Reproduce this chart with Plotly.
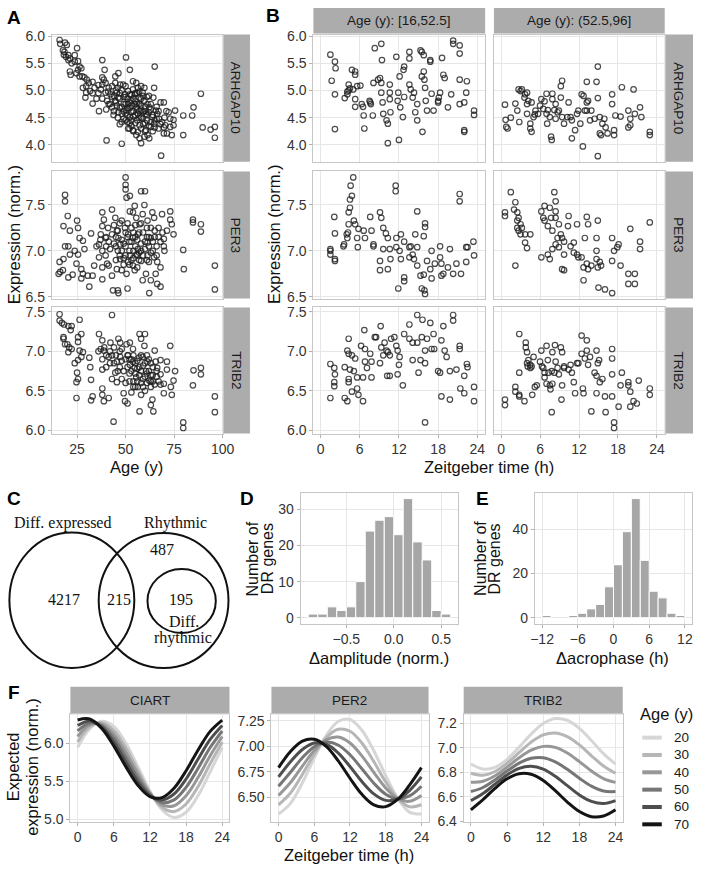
import plotly.graph_objects as go

W, H = 706, 872

# ---------------- DATA ----------------
# Panel A: expression vs age (age, expression)
a_arhgap10 = [(16.0,5.93),(16.3,5.86),(18.8,5.88),(19.7,5.84),(17.7,5.74),(18.5,5.71),(18.2,5.66),(19.3,5.62),(20.5,5.65),(21.3,5.59),(20.5,5.56),(23.8,5.65),(25.0,5.78),(22.2,5.50),(23.8,5.53),(25.5,5.54),(26.3,5.44),(25.5,5.38),(27.2,5.41),(27.7,5.26),(26.3,5.26),(24.7,5.32),(21.3,5.35),(21.7,5.29),(28.8,5.24),(29.7,5.08),(31.0,5.14),(31.7,4.99),(33.0,5.16),(29.7,4.96),(29.3,4.87),(33.0,4.76),(36.3,4.62),(38.0,5.56),(39.2,5.38),(38.0,5.24),(38.8,5.20),(39.7,5.14),(38.0,5.11),(37.2,5.02),(39.7,4.96),(38.0,4.85),(41.3,5.05),(43.0,5.08),(42.2,4.93),(40.5,4.81),(41.3,4.75),(43.0,4.69),(44.7,5.26),(46.3,5.32),(44.7,5.14),(47.2,5.11),(45.5,4.96),(46.3,4.87),(44.7,4.81),(45.5,4.72),(46.3,4.60),(43.8,4.55),(48.0,4.57),(50.2,5.61),(52.2,5.38),(48.8,5.11),(50.0,5.08),(51.3,4.99),(49.7,4.93),(52.2,4.93),(53.8,5.17),(55.5,5.14),(53.8,5.02),(54.7,4.93),(56.3,5.05),(58.0,5.08),(59.7,5.05),(58.8,4.96),(57.2,4.87),(53.0,4.81),(54.7,4.75),(55.5,4.69),(51.3,4.75),(50.5,4.63),(52.2,4.51),(51.0,4.42),(51.3,4.30),(53.8,4.27),(48.0,4.42),(56.3,4.57),(58.0,4.63),(59.7,4.81),(61.3,4.75),(60.5,4.57),(62.2,4.69),(58.8,4.48),(57.2,4.36),(55.5,4.18),(57.2,4.12),(56.3,4.24),(61.3,4.18),(63.0,4.33),(64.7,4.39),(63.8,4.51),(65.0,5.44),(64.7,5.05),(64.3,4.87),(65.5,4.63),(66.3,4.57),(68.0,4.78),(69.7,4.78),(67.2,4.48),(68.8,4.42),(69.7,4.32),(70.5,4.36),(72.2,4.60),(73.0,4.48),(74.7,4.36),(75.5,4.63),(73.0,4.33),(71.3,4.21),(68.3,3.80),(48.0,4.02),(40.2,4.08),(79.7,4.54),(84.3,4.54),(85.0,4.69),(88.8,4.94),(89.7,4.32),(93.8,4.28),(96.0,4.33),(96.0,4.13),(79.7,4.18),(74.7,4.46),(73.8,4.18),(69.7,4.21),(62.2,4.12),(59.7,4.15),(58.0,4.03),(60.5,4.27),
    (47,4.85),(48,4.70),(49,4.62),(50,4.75),(51,4.55),(52,4.68),(53,4.45),(53,4.60),(54,4.52),(55,4.80),(55,4.40),(56,4.65),(57,4.75),(57,4.50),(58,4.30),(58,4.85),(59,4.60),(60,4.40),(60,4.70),(61,4.55),(62,4.35),(62,4.90),(63,4.65),(64,4.25),(65,4.45),(66,4.70),(67,4.30),(44,4.90),(45,5.00),(42,4.75),(40,4.65),(36,4.95),(35,4.85),(34,5.05),(52,4.30),(54,4.25),(56,4.95),(50,4.45),(49,4.88),(46,4.50),
    (41,4.98),(43,4.88),(44,4.62),(45,4.78),(46,5.05),(47,4.68),(47,4.95),(48,5.00),(49,4.75),(49,4.48),(50,4.88),(50,4.58),(51,4.68),(51,4.85),(52,4.78),(52,4.40),(53,4.92),(53,4.72),(54,4.62),(54,4.85),(55,4.55),(55,4.95),(56,4.45),(56,4.75),(57,4.62),(57,4.98),(58,4.72),(58,4.50),(59,4.38),(59,4.90),(60,4.62),(60,4.25),(61,4.45),(61,4.88),(62,4.60),(63,4.42),(63,4.75),(64,4.55),(65,4.32),(66,4.48),(67,4.62),(68,4.38),(70,4.50),(71,4.62),(36,5.10),(33,4.95),(30,5.20),(28,5.05),(47,4.38),(53,4.35)]

a_per3 = [(18.8,7.61),(18.8,7.54),(20.2,7.38),(18.0,7.27),(21.3,7.22),(25.0,7.33),(25.5,7.25),(26.3,7.14),(28.0,7.11),(32.2,7.19),(38.0,7.42),(38.8,7.34),(38.0,7.27),(37.2,7.18),(39.7,7.14),(41.3,7.10),(43.0,7.45),(44.7,7.36),(45.5,7.22),(46.3,7.14),(50.0,7.80),(52.2,7.60),(50.0,7.72),(50.0,7.67),(50.5,7.58),(52.2,7.43),(48.0,7.33),(49.7,7.25),(51.3,7.18),(53.8,7.42),(54.7,7.49),(55.5,7.36),(53.8,7.14),(58.0,7.65),(60.0,7.65),(59.7,7.50),(58.8,7.40),(57.2,7.29),(56.3,7.18),(61.3,7.33),(63.8,7.42),(64.7,7.36),(65.0,7.22),(63.0,7.14),(68.8,7.40),(73.0,7.43),(73.0,7.34),(73.8,7.29),(71.3,7.22),(74.7,7.18),(84.7,7.34),(84.7,7.31),(88.8,7.29),(88.8,7.21),(69.7,7.13),(61.3,7.09),(47.2,7.07),(36.3,7.07),(20.5,7.05),
    (16.0,6.88),(16.3,6.77),(15.5,6.75),(17.7,6.79),(18.0,6.91),(18.8,7.05),(21.3,6.96),(20.5,6.71),(22.7,6.74),(23.8,7.00),(24.7,6.86),(25.5,6.96),(27.2,6.80),(27.2,6.70),(28.0,6.75),(28.8,7.02),(30.5,6.73),(31.3,6.61),(33.0,6.73),(33.8,6.84),(36.3,6.93),(38.0,6.82),(38.0,6.69),(39.7,6.95),(40.5,6.86),(41.3,6.84),(43.0,6.73),(43.5,6.57),(45.5,6.80),(46.3,6.54),(46.0,6.57),(47.2,6.91),(48.0,6.79),(50.5,6.75),(51.0,6.59),(51.3,6.88),(52.2,6.95),(53.8,6.84),(54.7,6.79),(55.5,6.96),(56.3,7.02),(58.0,6.89),(58.8,6.68),(60.5,6.75),(62.2,6.54),(63.0,6.68),(64.7,6.93),(65.5,6.75),(66.3,6.64),(68.0,6.82),(68.0,6.61),(69.7,7.05),(79.7,7.01),(80.0,6.80),(96.0,6.84),(96.0,6.58),(66.3,6.88),(61.3,6.95),
    (42,7.02),(44,7.08),(46,7.00),(48,7.12),(50,7.05),(52,7.00),(53,7.10),(54,7.20),(55,7.05),(56,7.12),(57,6.98),(58,7.08),(59,7.20),(60,7.02),(61,7.15),(62,7.05),(63,6.98),(64,7.10),(66,7.05),(67,7.15),(45,7.15),(47,6.95),(51,7.15),(49,6.92),(53,6.90),(57,6.90),(62,6.88),(35,7.05),(38,7.00),(40,7.15),
    (41,7.25),(43,7.18),(44,7.28),(45,7.05),(46,7.22),(47,7.30),(48,7.00),(49,7.08),(50,7.20),(50,6.95),(51,7.30),(52,7.10),(52,6.85),(53,7.25),(54,7.00),(54,6.92),(55,7.28),(55,7.15),(56,6.95),(57,7.20),(58,7.00),(58,7.30),(59,6.95),(60,7.10),(61,7.25),(61,6.90),(62,7.15),(63,7.25),(64,7.00),(65,7.15),(66,6.95),(67,7.25),(68,7.10),(69,7.20),(70,7.00),(56,6.82),(49,6.85),(45,6.90),(40,7.05),(37,7.12)]

a_trib2 = [(16.0,7.47),(16.0,7.39),(17.2,7.36),(18.3,7.34),(20.5,7.32),(22.2,7.32),(21.7,7.27),(26.3,7.40),(18.0,7.18),(18.0,7.16),(18.8,7.09),(20.0,7.09),(21.0,7.05),(22.2,7.03),(20.5,6.99),(25.5,7.18),(27.2,7.22),(25.5,7.12),(26.3,7.01),(28.0,6.99),(27.2,6.93),(25.5,6.89),(23.8,6.85),(25.0,6.73),(25.5,6.65),(24.7,6.61),(24.7,6.41),(31.3,6.92),(31.8,6.80),(32.2,6.64),(33.0,6.43),(32.2,6.38),(36.3,7.22),(38.0,7.14),(37.2,7.03),(38.8,7.01),(38.0,6.77),(38.0,6.53),(38.0,6.45),(38.8,6.37),(41.3,6.41),(43.0,7.46),(42.2,7.11),(43.0,6.95),(41.3,6.93),(43.8,6.11),(44.7,6.73),(45.5,6.61),(46.3,7.16),(47.2,7.11),(48.0,7.03),(47.2,6.93),(45.5,6.87),(49.0,6.47),(49.7,6.37),(51.0,6.34),(50.5,7.09),(52.2,7.11),(53.8,7.03),(51.3,6.95),(52.2,6.83),(53.8,6.87),(54.7,6.79),(55.5,6.67),(56.3,6.55),(57.2,7.22),(58.0,7.16),(60.0,7.22),(59.7,7.07),(58.8,6.93),(61.3,6.87),(60.5,6.75),(62.2,6.63),(63.0,6.55),(63.8,6.39),(63.0,6.32),(64.3,6.24),(57.2,6.24),(65.0,7.01),(65.5,6.87),(66.3,6.79),(68.0,6.71),(68.0,6.89),(69.7,6.59),(69.7,6.47),(73.0,7.07),(73.8,6.45),(73.3,6.55),(74.7,6.63),(75.5,6.75),(71.3,6.87),(71.3,6.77),(79.7,6.10),(79.7,6.03),(84.7,6.57),(85.0,6.76),(88.8,6.79),(88.8,6.71),(96.0,6.43),(96.0,6.23),
    (51,6.80),(52,6.72),(53,6.90),(54,6.62),(55,6.85),(56,6.78),(57,6.70),(57,6.92),(58,6.60),(59,6.82),(60,6.68),(61,6.95),(62,6.75),(63,6.85),(64,6.70),(64,6.62),(66,6.68),(55,6.55),(53,6.48),(60,6.50),(47,6.80),(45,6.95),(48,6.65),(50,6.90),(44,7.05),(42,6.85),(40,6.95),(38,6.90),(36,7.00),(58,6.45),
    (46,6.75),(47,7.00),(48,6.88),(49,6.75),(50,6.60),(51,6.95),(52,6.62),(52,6.90),(53,6.75),(54,6.95),(54,6.55),(55,6.72),(56,6.88),(56,6.62),(57,6.80),(58,6.75),(58,6.95),(59,6.65),(59,6.55),(60,6.85),(61,6.60),(61,6.72),(62,6.90),(63,6.62),(63,6.70),(64,6.80),(65,6.58),(66,6.75),(67,6.62),(68,6.58),(44,6.85),(42,7.00),(40,6.80),(39,7.05),(43,6.65)]

# Panel B: expression vs Zeitgeber time (ZT h, expression), young = [16,52.5], old = (52.5,96]
b_arhgap10_young = [(1.5,5.66),(1.7,5.18),(2.2,5.53),(2.3,5.41),(2.2,4.93),(2.2,4.29),(3.7,4.86),(4.1,4.98),(4.3,5.11),(4.5,5.04),(4.3,5.00),(4.1,4.93),(4.8,5.38),(5.0,5.02),(5.3,5.35),(5.3,5.29),(5.3,4.84),(5.3,4.70),(5.6,5.08),(6.1,5.09),(6.3,4.75),(6.5,4.70),(6.6,4.54),(6.7,4.30),(7.5,4.81),(7.6,4.78),(7.7,4.75),(8.0,4.54),(8.1,5.14),(8.3,5.78),(8.8,5.20),(9.1,5.23),(9.3,5.86),(9.4,5.56),(9.3,5.14),(9.3,4.96),(9.5,4.78),(9.6,4.57),(10.1,4.45),(10.3,4.39),(10.6,5.11),(10.6,4.96),(10.6,4.84),(10.7,4.60),(10.3,4.03),(11.6,5.62),(12.1,5.26),(11.9,4.96),(11.8,4.81),(12.2,4.69),(12.0,4.09),(12.8,5.44),(12.7,5.38),(12.8,4.88),(12.6,4.51),(13.6,5.71),(13.6,5.59),(13.6,5.11),(13.8,5.02),(14.3,4.96),(14.1,4.87),(14.8,4.75),(14.8,4.45),(14.5,4.60),(15.3,5.74),(15.5,5.71),(15.8,5.65),(15.8,5.35),(15.5,5.26),(15.9,5.20),(16.0,5.05),(16.1,4.81),(16.3,4.63),(15.6,4.24),(16.8,5.56),(16.8,5.53),(17.0,4.94),(17.3,4.63),(18.0,4.81),(18.0,4.78),(18.1,4.87),(18.3,4.96),(18.6,5.60),(18.8,5.29),(19.0,5.23),(19.5,4.69),(20.0,4.93),(20.3,5.92),(20.3,5.86),(21.3,5.83),(21.3,5.68),(21.3,5.20),(21.3,4.75),(22.0,4.27),(22.0,4.24),(22.0,4.78),(22.3,4.96),(22.4,5.17),(23.5,4.63),(23.5,4.55)]

b_arhgap10_old = [(0.6,4.74),(0.7,4.46),(0.8,4.33),(1.0,4.30),(1.5,4.50),(2.2,4.76),(2.5,4.63),(2.7,5.02),(2.8,4.42),(3.0,4.99),(3.2,5.02),(3.6,4.87),(3.7,4.93),(4.0,4.75),(4.0,4.96),(4.0,4.57),(4.2,4.81),(4.5,4.39),(4.5,4.30),(4.7,4.24),(4.7,4.78),(5.0,4.51),(5.2,4.56),(5.3,4.63),(5.7,4.57),(6.0,4.72),(6.2,4.84),(6.5,4.66),(6.7,4.80),(7.0,4.94),(7.0,4.57),(7.1,4.39),(7.2,4.64),(7.5,4.51),(7.7,4.15),(7.8,4.09),(7.9,4.84),(7.9,4.94),(8.2,4.64),(8.4,4.75),(8.4,4.48),(8.7,4.60),(8.9,4.63),(9.2,5.08),(9.4,5.18),(9.2,4.87),(9.4,4.51),(9.7,4.39),(10.2,4.51),(10.4,4.78),(10.7,4.51),(10.9,4.45),(10.9,4.12),(11.4,4.27),(11.7,4.57),(11.9,4.63),(12.2,4.39),(12.4,4.93),(12.7,4.90),(12.9,4.63),(13.2,4.63),(13.2,4.78),(13.4,4.81),(13.7,4.45),(13.9,4.63),(14.4,4.48),(12.6,3.97),(14.7,5.16),(14.9,4.86),(15.2,4.51),(14.9,3.79),(15.2,4.21),(15.4,4.18),(15.6,4.39),(15.9,4.48),(16.1,4.32),(16.4,4.21),(17.1,4.93),(17.1,4.75),(17.4,4.18),(17.4,4.27),(17.6,4.54),(18.4,4.52),(18.6,5.06),(19.6,4.63),(19.9,4.48),(19.9,4.36),(19.6,4.32),(20.4,5.02),(20.6,4.57),(21.4,4.69),(21.6,4.51),(22.9,4.24),(22.9,4.18),(14.9,5.44),(13.2,5.16)]

b_per3_young = [(1.5,7.00),(2.1,7.37),(2.2,7.19),(3.6,7.07),(4.0,7.18),(4.1,7.14),(4.2,7.20),(4.3,7.29),(4.3,7.42),(4.5,7.47),(4.5,7.56),(4.8,7.60),(4.6,7.71),(5.0,7.80),(5.1,7.33),(5.3,7.29),(5.6,7.14),(5.8,7.24),(6.6,7.22),(6.8,7.14),(7.6,7.37),(7.8,7.22),(8.1,7.07),(9.1,7.42),(9.3,7.36),(9.6,7.25),(10.0,7.19),(10.3,7.14),(11.5,7.71),(11.5,7.65),(11.6,7.14),(12.3,7.18),(12.8,7.10),(13.8,7.05),(14.8,7.43),(14.5,7.18),(16.0,7.30),(16.0,7.26),(15.8,7.16),(18.3,7.05),(21.3,7.62),(21.3,7.54),(22.3,7.04),(23.4,7.10),
    (1.5,7.02),(1.5,6.96),(2.2,6.91),(2.2,6.89),(3.5,7.05),(5.7,7.04),(8.1,7.05),(9.1,6.89),(9.1,6.79),(10.3,6.80),(10.7,6.91),(9.6,7.02),(10.6,7.02),(11.6,7.04),(12.1,7.00),(12.3,6.91),(12.8,6.71),(12.8,6.67),(11.9,6.59),(13.6,6.93),(14.1,6.96),(14.3,6.91),(14.8,6.84),(15.3,6.73),(15.5,6.59),(15.8,6.74),(15.9,6.57),(16.0,6.53),(16.3,6.89),(17.0,7.00),(16.8,6.80),(17.0,6.70),(17.5,6.86),(18.3,6.93),(18.5,6.86),(18.5,6.73),(18.8,6.75),(19.5,6.82),(19.8,7.02),(20.3,6.75),(20.8,6.86),(21.5,6.75),(22.3,6.88),(22.5,7.04),(23.5,6.95),(14.8,7.04),(13.6,7.04)]

b_per3_old = [(0.6,7.42),(0.6,7.38),(1.5,7.64),(2.2,7.53),(2.0,7.45),(2.5,7.42),(2.7,7.36),(3.0,7.29),(2.5,7.33),(2.5,7.25),(2.7,7.22),(3.2,7.25),(3.0,7.18),(3.7,7.18),(4.5,7.18),(3.7,7.09),(6.2,7.43),(6.7,7.49),(7.5,7.47),(7.7,7.36),(6.7,7.33),(6.5,7.36),(7.2,7.27),(7.9,7.22),(8.2,7.64),(8.4,7.54),(8.4,7.43),(8.4,7.36),(8.9,7.29),(9.2,7.18),(8.7,7.14),(9.4,7.14),(9.7,7.10),(10.4,7.38),(11.2,7.09),(11.7,7.29),(13.2,7.37),(13.4,7.29),(14.7,7.14),(14.9,7.33),(17.1,7.14),(18.1,7.07),(19.9,7.24),(21.4,7.10),(22.9,7.31),(12.9,7.14),(10.3,7.27),
    (2.2,6.84),(4.0,7.03),(7.5,6.91),(7.9,7.02),(8.4,7.07),(8.9,7.04),(9.7,6.96),(10.7,7.05),(11.2,6.98),(11.7,6.96),(11.9,6.93),(12.4,6.93),(12.7,6.82),(13.2,6.86),(12.7,6.68),(13.4,6.80),(13.9,6.84),(14.7,7.00),(15.2,6.88),(15.4,6.84),(14.9,6.82),(15.0,6.60),(16.0,6.58),(17.1,6.89),(17.1,6.54),(17.4,7.00),(17.9,7.04),(18.4,6.84),(19.6,6.75),(19.6,6.64),(20.6,6.75),(20.6,6.64),(21.4,7.02),(9.7,6.79),(9.4,6.80),(7.2,6.96),(6.2,6.93),(14.7,6.91)]

b_trib2_young = [(1.5,6.84),(1.5,6.41),(2.1,6.79),(2.2,6.71),(2.1,6.61),(2.1,6.56),(3.7,6.80),(3.7,6.41),(4.1,6.37),(4.3,6.65),(4.3,6.61),(4.5,6.77),(4.1,7.01),(4.3,7.16),(4.3,6.97),(4.8,6.95),(5.1,6.75),(4.8,6.49),(5.3,6.91),(5.6,6.67),(5.6,6.53),(5.8,6.45),(6.2,7.07),(6.5,6.37),(6.5,6.67),(6.7,7.27),(6.8,7.03),(6.8,6.87),(7.1,6.79),(7.6,6.97),(7.8,6.87),(7.8,6.67),(8.3,7.18),(8.5,7.18),(9.1,6.85),(9.2,7.32),(9.3,7.05),(9.6,6.95),(9.8,7.11),(10.1,7.01),(10.2,6.69),(10.3,6.99),(10.6,6.69),(10.6,6.95),(10.8,7.16),(11.3,7.18),(11.6,7.07),(11.8,7.01),(12.0,6.83),(11.8,6.71),(12.1,6.93),(12.6,6.57),(12.8,7.22),(13.6,7.34),(13.6,7.16),(14.1,6.89),(14.1,7.11),(14.8,7.46),(14.8,7.11),(15.0,6.73),(15.3,6.89),(15.5,7.18),(15.6,7.40),(16.0,7.01),(16.0,6.10),(16.0,6.85),(16.3,7.16),(16.8,7.36),(17.0,7.03),(17.3,7.22),(17.4,7.03),(18.0,6.75),(18.3,6.73),(18.5,7.14),(18.5,6.43),(18.8,7.32),(19.0,7.01),(19.3,6.93),(19.8,6.39),(19.8,6.75),(20.3,7.46),(20.3,7.39),(20.8,6.77),(21.3,7.07),(21.3,7.03),(21.4,6.53),(22.0,6.47),(22.4,6.84),(22.5,6.80),(22.0,6.69),(23.5,6.55),(23.5,6.37)]

b_trib2_old = [(0.6,6.39),(0.6,6.32),(2.2,6.55),(2.2,6.49),(2.8,6.45),(2.8,6.43),(2.8,7.22),(2.8,6.73),(3.6,6.37),(3.8,7.11),(3.8,7.05),(4.0,6.99),(4.0,6.85),(4.1,6.81),(4.2,6.89),(4.5,6.83),(4.5,6.79),(4.7,6.81),(4.8,6.45),(5.0,6.93),(5.2,6.55),(5.5,6.57),(6.0,6.87),(6.2,7.01),(6.3,6.81),(6.5,6.79),(6.7,6.73),(7.0,7.07),(6.7,6.67),(7.0,6.59),(7.2,6.89),(7.3,6.73),(7.5,6.57),(7.6,6.52),(7.8,6.23),(7.8,6.75),(7.9,6.99),(7.9,6.59),(8.3,7.08),(8.4,6.87),(8.7,6.79),(8.9,6.71),(9.2,7.05),(9.4,6.99),(9.4,6.57),(9.3,6.39),(9.7,6.81),(10.4,6.77),(10.7,6.83),(10.9,6.73),(11.2,6.61),(11.4,6.47),(11.7,6.85),(11.9,6.85),(12.4,7.20),(12.4,6.97),(12.6,6.53),(12.7,6.47),(12.9,6.91),(13.2,7.14),(13.2,7.01),(13.4,6.83),(13.7,6.93),(13.9,6.24),(14.4,6.73),(14.7,7.01),(14.7,6.69),(14.7,6.47),(14.9,6.85),(15.1,6.89),(15.2,6.61),(15.6,6.65),(16.0,6.43),(16.1,6.23),(17.1,7.03),(17.1,6.91),(17.1,6.71),(17.1,6.43),(17.4,6.10),(17.4,6.03),(18.1,6.30),(18.4,6.57),(18.6,6.73),(19.6,6.61),(19.6,6.57),(19.9,6.49),(19.9,6.30),(20.4,6.37),(20.9,6.34),(21.2,6.63),(22.9,6.53),(22.9,6.45),(9.7,6.79),(8.2,6.73)]

genes_ab = ["ARHGAP10", "PER3", "TRIB2"]
age_groups = ["Age (y): [16,52.5]", "Age (y): (52.5,96]"]

# Panel C: Venn counts
venn_sets = ["Diff. expressed", "Rhythmic"]
venn_counts = {"de_only": 4217, "de_rhythmic": 215, "rhythmic_only": 487, "diff_rhythmic": 195}

# Panel D: histogram of delta amplitude (bin centres, counts)
d_centers = [-0.85,-0.75,-0.65,-0.55,-0.45,-0.35,-0.25,-0.15,-0.05,0.05,0.15,0.25,0.35,0.45,0.55]
d_counts = [1,1,3,2,3,10,24,27,28,23,33,21,16,2,1]
# Panel E: histogram of delta acrophase
e_centers = [-11.25,-6.75,-5.25,-3.75,-2.25,-0.75,0.75,2.25,3.75,5.25,6.75,8.25,9.75,11.25]
e_counts = [1,1,2,4,6,14,24,39,54,26,12,9,2,1]

# Panel F: expected expression curves by age, read at ZT 0,2,...,24
f_zt = [0,2,4,6,8,10,12,14,16,18,20,22,24]
f_ages = [20,30,40,50,60,70]
f_genes = ["CIART", "PER2", "TRIB2"]
f_ciart = [
    [5.943,6.188,6.289,6.221,6.001,5.688,5.367,5.122,5.021,5.089,5.309,5.622,5.943],
    [6.015,6.214,6.270,6.170,5.939,5.639,5.353,5.154,5.098,5.198,5.429,5.729,6.015],
    [6.087,6.240,6.251,6.118,5.877,5.591,5.339,5.186,5.175,5.308,5.549,5.835,6.087],
    [6.160,6.266,6.232,6.067,5.814,5.542,5.324,5.218,5.252,5.417,5.670,5.942,6.160],
    [6.232,6.292,6.213,6.015,5.752,5.494,5.310,5.250,5.329,5.527,5.790,6.048,6.232],
    [6.304,6.318,6.194,5.964,5.690,5.445,5.296,5.282,5.406,5.636,5.910,6.155,6.304]]
f_per2 = [
    [6.338,6.443,6.643,6.886,7.105,7.243,7.262,7.157,6.957,6.714,6.495,6.357,6.338],
    [6.429,6.544,6.725,6.923,7.084,7.166,7.147,7.032,6.851,6.653,6.492,6.410,6.429],
    [6.520,6.646,6.806,6.959,7.063,7.090,7.032,6.907,6.746,6.593,6.489,6.463,6.520],
    [6.610,6.747,6.888,6.996,7.041,7.013,6.918,6.781,6.640,6.532,6.487,6.515,6.610],
    [6.701,6.849,6.969,7.032,7.020,6.937,6.803,6.656,6.535,6.472,6.484,6.568,6.701],
    [6.792,6.950,7.051,7.069,6.999,6.860,6.688,6.531,6.429,6.411,6.481,6.621,6.792]]
f_trib2 = [
    [6.867,6.826,6.840,6.906,7.006,7.113,7.199,7.240,7.226,7.160,7.060,6.953,6.867],
    [6.792,6.776,6.806,6.874,6.962,7.047,7.106,7.122,7.092,7.024,6.935,6.851,6.792],
    [6.717,6.726,6.771,6.842,6.919,6.981,7.012,7.004,6.958,6.887,6.810,6.748,6.717],
    [6.642,6.675,6.737,6.810,6.875,6.915,6.919,6.885,6.824,6.751,6.686,6.646,6.642],
    [6.567,6.625,6.702,6.778,6.832,6.849,6.825,6.767,6.690,6.614,6.561,6.543,6.567],
    [6.492,6.575,6.668,6.746,6.788,6.783,6.732,6.649,6.556,6.478,6.436,6.441,6.492]]

# ---------------- STYLE ----------------
FONT = "Liberation Sans"
TICK = dict(family=FONT, size=14, color="#333333")
TITLE_SIZE = 16.5
STRIP_FILL = "#acacac"
GRID = "#e6e6e6"
BORDER = "#c6c6c6"
PT_COLOR = "rgba(30,30,30,0.8)"
AGE_COLORS = ["#d6d6d6", "#b6b6b6", "#979797", "#767676", "#4e4e4e", "#141414"]
D_BIN, E_BIN = 0.1, 1.5

fig = go.Figure()
layout = dict(width=W, height=H, margin=dict(l=0, r=0, t=0, b=0), autosize=False,
              paper_bgcolor="white", plot_bgcolor="white", showlegend=False,
              font=dict(family=FONT, size=13, color="#1a1a1a"))
shapes, annots = [], []

def px(x): return x / W
def py(y): return 1 - y / H

def add_axes(i, box, xr, yr, xtv, ytv, xtt=None, ytt=None, xlab=True, ylab=True, hide=False):
    x0, x1, y0, y1 = box
    xn = "xaxis" if i == 1 else f"xaxis{i}"
    yn = "yaxis" if i == 1 else f"yaxis{i}"
    xa = "x" if i == 1 else f"x{i}"
    ya = "y" if i == 1 else f"y{i}"
    if hide:
        layout[xn] = dict(domain=[px(x0), px(x1)], range=xr, visible=False, anchor=ya, fixedrange=True)
        layout[yn] = dict(domain=[py(y1), py(y0)], range=yr, visible=False, anchor=xa, fixedrange=True)
        return xa, ya
    common = dict(showgrid=True, gridcolor=GRID, gridwidth=1, zeroline=False, showline=True,
                  linecolor=BORDER, linewidth=1, mirror=True, tickfont=TICK, fixedrange=True)
    layout[xn] = dict(domain=[px(x0), px(x1)], range=xr, anchor=ya, tickmode="array", tickvals=xtv,
                      ticktext=xtt if xtt else [str(v) for v in xtv], showticklabels=xlab,
                      ticks="outside" if xlab else "", ticklen=3, tickcolor="#b0b0b0", **common)
    layout[yn] = dict(domain=[py(y1), py(y0)], range=yr, anchor=xa, tickmode="array", tickvals=ytv,
                      ticktext=ytt if ytt else [str(v) for v in ytv], showticklabels=ylab,
                      ticks="outside" if ylab else "", ticklen=3, tickcolor="#b0b0b0", **common)
    return xa, ya

def strip(x0, x1, y0, y1, text, vertical=False):
    shapes.append(dict(type="rect", xref="paper", yref="paper", x0=px(x0), x1=px(x1), y0=py(y1), y1=py(y0),
                       fillcolor=STRIP_FILL, line=dict(width=0), layer="below"))
    annots.append(dict(xref="paper", yref="paper", x=px((x0 + x1) / 2), y=py((y0 + y1) / 2), text=text,
                       showarrow=False, textangle=90 if vertical else 0,
                       font=dict(family=FONT, size=13.5, color="#1a1a1a"), xanchor="center", yanchor="middle"))

def label(x, y, text, size=TITLE_SIZE, angle=0, family=FONT, bold=False, xanchor="center", color="#111111", ref=("paper", "paper")):
    annots.append(dict(xref=ref[0], yref=ref[1],
                       x=px(x) if ref[0] == "paper" else x, y=py(y) if ref[1] == "paper" else y,
                       text=f"<b>{text}</b>" if bold else text, showarrow=False, textangle=angle,
                       font=dict(family=family, size=size, color=color), xanchor=xanchor, yanchor="middle"))

def scatter(pairs, xa, ya):
    xs = [p[0] for p in pairs]
    ys = [p[1] for p in pairs]
    fig.add_trace(go.Scatter(x=xs, y=ys, mode="markers", xaxis=xa, yaxis=ya, hoverinfo="skip",
                             marker=dict(symbol="circle-open", size=5.5, color=PT_COLOR, line=dict(width=1.2, color=PT_COLOR))))

# row geometry (pixel boxes) for panels A and B
rows_y = [(29, 158), (168, 297), (306, 434)]
y_ranges = [[3.69, 6.03], [6.48, 7.865], [5.96, 7.556]]
y_ticks = [[4.0, 4.5, 5.0, 5.5, 6.0], [6.5, 7.0, 7.5], [6.0, 6.5, 7.0, 7.5]]
y_text = [["4.0", "4.5", "5.0", "5.5", "6.0"], ["6.5", "7.0", "7.5"], ["6.0", "6.5", "7.0", "7.5"]]

a_data = [a_arhgap10, a_per3, a_trib2]
b_data = [(b_arhgap10_young, b_arhgap10_old), (b_per3_young, b_per3_old), (b_trib2_young, b_trib2_old)]

idx = 1
for r in range(3):
    y0, y1 = rows_y[r]
    xa, ya = add_axes(idx, (48, 223, y0, y1), [12, 100], y_ranges[r], [25, 50, 75, 100],
                      y_ticks[r], ytt=y_text[r], xlab=(r == 2))
    scatter(a_data[r], xa, ya)
    strip(223, 251, y0, y1, genes_ab[r], vertical=True)
    idx += 1
for r in range(3):
    y0, y1 = rows_y[r]
    for c, (bx0, bx1) in enumerate([(316, 492), (501, 676)]):
        xa, ya = add_axes(idx, (bx0, bx1, y0, y1), [-1.1, 25.2], y_ranges[r], [0, 6, 12, 18, 24],
                          y_ticks[r], ytt=y_text[r], xlab=(r == 2), ylab=(c == 0))
        scatter(b_data[r][c], xa, ya)
        if r == 0:
            strip(bx0, bx1, 2, 28, age_groups[c])
        idx += 1
    strip(676, 705, y0, y1, genes_ab[r], vertical=True)

# Panel D
xa, ya = add_axes(idx, (303, 464, 494, 627), [-0.98, 0.675], [-1.65, 34.65], [-0.5, 0.0, 0.5],
                  [0, 10, 20, 30], xtt=["\u22120.5", "0.0", "0.5"])
fig.add_trace(go.Bar(x=d_centers, y=d_counts, width=D_BIN, xaxis=xa, yaxis=ya, hoverinfo="skip",
                     marker=dict(color="#a6a6a6", line=dict(color="white", width=1))))
idx += 1
# Panel E
xa, ya = add_axes(idx, (543, 704, 494, 627), [-13.2, 13.2], [-2.7, 56.7], [-12, -6, 0, 6, 12],
                  [0, 20, 40], xtt=["\u221212", "\u22126", "0", "6", "12"])
fig.add_trace(go.Bar(x=e_centers, y=e_counts, width=E_BIN, xaxis=xa, yaxis=ya, hoverinfo="skip",
                     marker=dict(color="#a6a6a6", line=dict(color="white", width=1))))
idx += 1

# Panel F
f_data = [f_ciart, f_per2, f_trib2]
f_boxes = [(67, 230), (273, 434), (470, 633)]
f_yr = [[4.965, 6.38], [6.264, 7.313], [6.395, 7.275]]
f_yt = [[5.0, 5.5, 6.0], [6.5, 6.75, 7.0, 7.25], [6.4, 6.6, 6.8, 7.0, 7.2]]
f_ytt = [["5.0", "5.5", "6.0"], ["6.50", "6.75", "7.00", "7.25"], ["6.4", "6.6", "6.8", "7.0", "7.2"]]
for g in range(3):
    fx0, fx1 = f_boxes[g]
    xa, ya = add_axes(idx, (fx0, fx1, 719, 828), [-1.2, 25.2], f_yr[g], [0, 6, 12, 18, 24],
                      f_yt[g], ytt=f_ytt[g])
    for k, age in enumerate(f_ages):
        fig.add_trace(go.Scatter(x=f_zt, y=f_data[g][k], mode="lines", xaxis=xa, yaxis=ya, hoverinfo="skip",
                                 line=dict(color=AGE_COLORS[k], width=3, shape="spline", smoothing=1.0)))
    strip(fx0, fx1, 691, 719, f_genes[g])
    idx += 1

# Panel C: Venn diagram on hidden pixel-scaled axes
xa, ya = add_axes(idx, (0, 250, 515, 680), [0, 250], [680, 515], [], [], hide=True)
venn_circles = [(4.5, 132.5, 534.5, 672), (96, 229, 535, 672), (146, 216, 571.5, 636.5)]
for (cx0, cx1, cy0, cy1) in venn_circles:
    shapes.append(dict(type="circle", xref=xa, yref=ya, x0=cx0, x1=cx1, y0=cy0, y1=cy1,
                       line=dict(color="#111111", width=2), fillcolor="rgba(0,0,0,0)"))
SERIF = "Liberation Serif"
VS = 16
label(59, 525, venn_sets[0], size=VS, family=SERIF, ref=(xa, ya))
label(175, 525, venn_sets[1], size=VS, family=SERIF, ref=(xa, ya))
label(161, 552, str(venn_counts["rhythmic_only"]), size=VS, family=SERIF, ref=(xa, ya))
label(60, 602, str(venn_counts["de_only"]), size=VS, family=SERIF, ref=(xa, ya))
label(117, 602, str(venn_counts["de_rhythmic"]), size=VS, family=SERIF, ref=(xa, ya))
label(180, 602, str(venn_counts["diff_rhythmic"]), size=VS, family=SERIF, ref=(xa, ya))
label(183, 625, "Diff.", size=VS, family=SERIF, ref=(xa, ya))
label(182, 642, "rhythmic", size=VS, family=SERIF, ref=(xa, ya))

# Axis titles
label(135, 468, "Age (y)")
label(496, 468, "Zeitgeber time (h)")
label(9, 232, "Expression (norm.)", angle=-90)
label(275, 232, "Expression (norm.)", angle=-90)
label(254, 561, "Number of", angle=-90, size=16)
label(269, 561, "DR genes", angle=-90, size=16)
label(383, 662, "\u0394amplitude (norm.)")
label(487, 561, "Number of", angle=-90, size=16)
label(502, 561, "DR genes", angle=-90, size=16)
label(623, 662, "\u0394acrophase (h)")
label(9, 772, "Expected", angle=-90)
label(28, 772, "expression (norm.)", angle=-90)
label(352, 862, "Zeitgeber time (h)")

# Panel letters
for (lx, ly, lt) in [(9, 12, "A"), (275, 10, "B"), (9, 500, "C"), (248, 500, "D"), (489, 500, "E"), (9, 697, "F")]:
    label(lx, ly, lt, size=19, bold=True, color="#000000")

# Manual legend for panel F
label(649, 719, "Age (y)", xanchor="left")
for k, age in enumerate(f_ages):
    yy = 742.7 + 17.6 * k
    shapes.append(dict(type="line", xref="paper", yref="paper", x0=px(653), x1=px(673), y0=py(yy), y1=py(yy),
                       line=dict(color=AGE_COLORS[k], width=4)))
    label(683, yy, str(age), size=13.5, xanchor="left", color="#1a1a1a")

layout["shapes"] = shapes
layout["annotations"] = annots
fig.update_layout(**layout)
fig.write_html("out.html", config={"displayModeBar": False},
               post_script="document.body.style.margin='0';document.body.style.overflow='hidden';")
